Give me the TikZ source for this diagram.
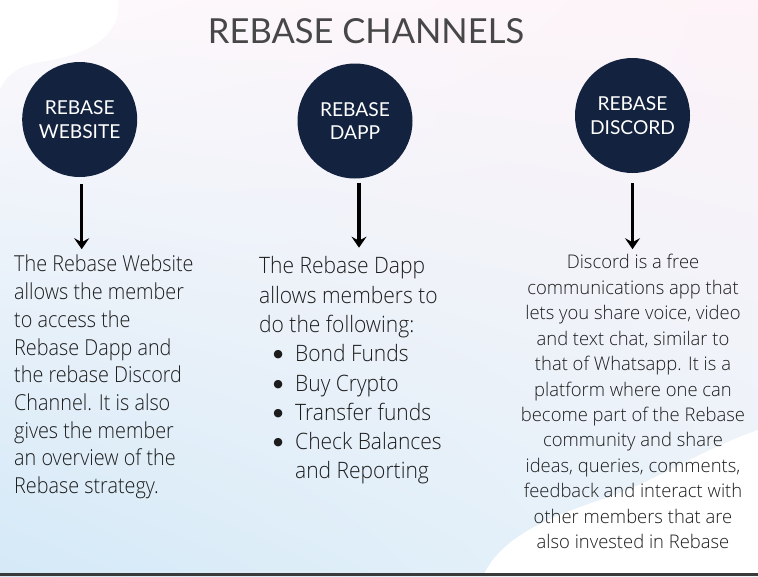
\documentclass[tikz,border=0pt]{standalone}
\usepackage{fontspec}
\usepackage{graphicx}
\usetikzlibrary{arrows.meta,shadings}
\IfFontExistsTF{Open Sans Light}{%
  \newfontfamily\bodyfont{Open Sans Light}[FakeStretch=0.9]%
  \newfontfamily\bodyfontm{Open Sans Light}[FakeStretch=0.93]%
  \newfontfamily\bodyfontw{Open Sans Light}[FakeStretch=0.98]%
}{%
  \newfontfamily\bodyfont{Open Sans}[FakeStretch=0.88]%
  \newfontfamily\bodyfontm{Open Sans}[FakeStretch=0.9]%
  \newfontfamily\bodyfontw{Open Sans}[FakeStretch=0.95]%
}
\newfontfamily\headfont{Lato}
\newfontfamily\symfont{DejaVu Sans}
\definecolor{navy}{HTML}{13223F}
\definecolor{bgul}{HTML}{FDF9FC}
\definecolor{bgur}{HTML}{FDF3F8}
\definecolor{bgll}{HTML}{D4E9F7}
\definecolor{bglr}{HTML}{E9F3FA}
\definecolor{titlegray}{HTML}{474747}
\definecolor{bodyink}{HTML}{1C1C1C}
\definecolor{bargray}{HTML}{3A3A3A}
\newcommand{\bigbul}{\hspace*{14pt}\makebox[10pt]{\raisebox{4pt}{\symfont\fontsize{11}{11}\selectfont ●}}\hspace*{12pt}}
\tikzset{
  chan/.style={circle, fill=navy, minimum size=115pt, inner sep=0pt, text=white,
    align=center, font=\headfont\fontsize{19.2}{23.5}\selectfont},
  bodytext/.style={inner sep=0pt, text=bodyink},
  arr/.style={line width=3.2pt, -{Stealth[length=11pt,width=15pt,inset=4pt]}},
}
\begin{document}
\begin{tikzpicture}[x=1pt,y=-1pt]
\useasboundingbox (0,0) rectangle (758,576);
% background
\shade[upper left=bgul, upper right=bgur, lower left=bgll, lower right=bglr] (0,0) rectangle (758,576);
\fill[white] (0,0) -- (118,0) .. controls (122,35) and (90,55) .. (40,62) .. controls (20,65) and (5,75) .. (0,90) -- cycle;
\fill[white] (483,576) .. controls (500,540) and (540,520) .. (600,500) .. controls (660,480) and (700,450) .. (758,430) -- (758,576) -- cycle;
\fill[bargray] (0,573) rectangle (758,576);
% title
\node[text=titlegray, font=\headfont\fontsize{34.5}{36}\selectfont, inner sep=0pt, anchor=base] (title) at (366,43.3) {REBASE CHANNELS};
% circles
\node[chan] (c1) at (79.7,119.5) {REBASE\\WEBSITE};
\node[chan] (c2) at (355,121) {REBASE\\DAPP};
\node[chan] (c3) at (632.5,115.5) {REBASE\\DISCORD};
% texts
\node[bodytext, anchor=north west, align=left, font=\bodyfont\fontsize{22}{27.7}\selectfont] (t1) at (14,255)
{The Rebase Website\\allows the member\\to access the\\Rebase Dapp and\\the rebase Discord\\Channel. It is also\\gives the member\\an overview of the\\Rebase strategy.};
\node[bodytext, anchor=north west, align=left, font=\bodyfontm\fontsize{22.6}{29.3}\selectfont] (t2) at (259,256.5)
{The Rebase Dapp\\allows members to\\do the following:\\
\bigbul Bond Funds\\
\bigbul Buy Crypto\\
\bigbul Transfer funds\\
\bigbul Check Balances\\
\hspace*{36pt}and Reporting};
\node[bodytext, anchor=north, align=center, font=\bodyfontw\fontsize{18.8}{25.45}\selectfont] (t3) at (633,254.2)
{Discord is a free\\communications app that\\lets you share voice, video\\and text chat, similar to\\that of Whatsapp. It is a\\platform where one can\\become part of the Rebase\\community and share\\ideas, queries, comments,\\feedback and interact with\\other members that are\\also invested in Rebase};
% arrows
\draw[arr] ([xshift=2pt,yshift=-7pt]c1.south) -- ([xshift=2pt,yshift=-72pt]c1.south);
\draw[arr] ([xshift=4pt,yshift=-4pt]c2.south) -- ([xshift=4pt,yshift=-69pt]c2.south);
\draw[arr] ([yshift=-10pt]c3.south) -- ([yshift=-76pt]c3.south);
\end{tikzpicture}
\end{document}
